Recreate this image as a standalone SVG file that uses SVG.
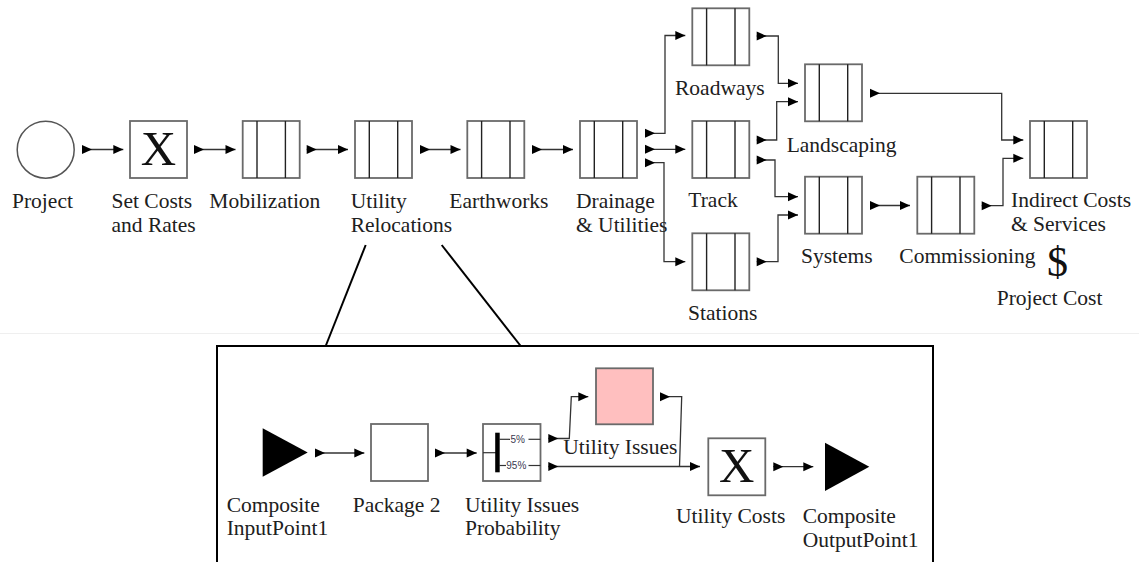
<svg xmlns="http://www.w3.org/2000/svg" width="1139" height="562" viewBox="0 0 1139 562">
  <style>
    .lbl { font-family: "Liberation Serif", "Times New Roman", serif; font-size: 21.5px; fill: #202020; }
    .big { font-family: "Liberation Serif", "Times New Roman", serif; font-size: 49px; fill: #111; text-anchor: middle; }
    .pct { font-family: "Liberation Sans", Arial, sans-serif; font-size: 10px; fill: #3a3a50; }
    .box { fill: #fff; stroke: #6a6a6a; stroke-width: 1.8; }
    .div { stroke: #222; stroke-width: 1.4; }
    .conn { fill: none; stroke: #333; stroke-width: 1.3; }
    .zoom { fill: none; stroke: #000; stroke-width: 2; }
  </style>
  <defs>
    <marker id="tail" markerUnits="userSpaceOnUse" markerWidth="10" markerHeight="10" refX="0" refY="4.5" orient="auto" overflow="visible">
      <path d="M0,0 L10,4.5 L0,9 z" fill="#000"/>
    </marker>
    <marker id="head" markerUnits="userSpaceOnUse" markerWidth="10" markerHeight="10" refX="10" refY="4.5" orient="auto" overflow="visible">
      <path d="M0,0 L10,4.5 L0,9 z" fill="#000"/>
    </marker>
    <!-- activity box with two dividers -->
    <g id="task">
      <rect class="box" x="0" y="0" width="57" height="57"/>
      <line class="div" x1="14.3" y1="0" x2="14.3" y2="57"/>
      <line class="div" x1="42.7" y1="0" x2="42.7" y2="57"/>
    </g>
  </defs>

  <rect x="0" y="0" width="1139" height="562" fill="#fff"/>
  <!-- faint page separator -->
  <line x1="0" y1="333.5" x2="1139" y2="333.5" stroke="#efefef" stroke-width="1"/>

  <!-- top-level nodes -->
  <g id="project">
    <circle cx="45.7" cy="149.7" r="28.5" fill="#fff" stroke="#555" stroke-width="1.5"/>
    <text class="lbl" x="12" y="208.3">Project</text>
  </g>
  <g id="set-costs">
    <rect class="box" x="130" y="121" width="57" height="57"/>
    <text class="big" x="158.5" y="164.5">X</text>
    <text class="lbl" x="111.5" y="208.3">Set Costs</text>
    <text class="lbl" x="111.5" y="231.7">and Rates</text>
  </g>
  <g id="mobilization">
    <use href="#task" x="242.7" y="121"/>
    <text class="lbl" x="209.3" y="208.3">Mobilization</text>
  </g>
  <g id="utility-relocations">
    <use href="#task" x="355" y="121"/>
    <text class="lbl" x="350.7" y="208.3">Utility</text>
    <text class="lbl" x="350.7" y="231.7">Relocations</text>
  </g>
  <g id="earthworks">
    <use href="#task" x="467.3" y="121"/>
    <text class="lbl" x="449.3" y="208.3">Earthworks</text>
  </g>
  <g id="drainage">
    <use href="#task" x="580" y="121"/>
    <text class="lbl" x="576" y="208.3">Drainage</text>
    <text class="lbl" x="576" y="231.7">&amp; Utilities</text>
  </g>
  <g id="roadways">
    <use href="#task" x="692.3" y="8.3"/>
    <text class="lbl" x="675" y="95">Roadways</text>
  </g>
  <g id="track">
    <use href="#task" x="692.3" y="121"/>
    <text class="lbl" x="688.3" y="206.7">Track</text>
  </g>
  <g id="stations">
    <use href="#task" x="692.3" y="233.3"/>
    <text class="lbl" x="688" y="320">Stations</text>
  </g>
  <g id="landscaping">
    <use href="#task" x="805" y="64.3"/>
    <text class="lbl" x="786.7" y="151.7">Landscaping</text>
  </g>
  <g id="systems">
    <use href="#task" x="805" y="176.7"/>
    <text class="lbl" x="801" y="263.3">Systems</text>
  </g>
  <g id="commissioning">
    <use href="#task" x="917.3" y="176.7"/>
    <text class="lbl" x="899.3" y="263.3">Commissioning</text>
  </g>
  <g id="indirect-costs">
    <use href="#task" x="1030" y="121"/>
    <text class="lbl" x="1011" y="206.7">Indirect Costs</text>
    <text class="lbl" x="1011" y="230.7">&amp; Services</text>
  </g>
  <g id="project-cost">
    <text x="1057.5" y="276" font-family="Liberation Serif, serif" font-size="42" fill="#111" text-anchor="middle">$</text>
    <text class="lbl" x="996.7" y="305">Project Cost</text>
  </g>

  <!-- detail panel for Utility Relocations -->
  <g id="detail-panel">
    <line class="zoom" x1="365.7" y1="245" x2="325.7" y2="346"/>
    <line class="zoom" x1="441.7" y1="245" x2="520.7" y2="346"/>
    <rect x="217" y="346" width="716" height="230" fill="#fff" stroke="#000" stroke-width="2"/>
  </g>

  <g id="input-point">
    <polygon points="262.7,428.3 307.7,452.5 262.7,476.7" fill="#000"/>
    <text class="lbl" x="226.7" y="511.7">Composite</text>
    <text class="lbl" x="226.7" y="535">InputPoint1</text>
  </g>
  <g id="package-2">
    <rect class="box" x="371" y="424" width="57" height="57"/>
    <text class="lbl" x="352.7" y="511.7">Package 2</text>
  </g>
  <g id="issues-probability">
    <rect class="box" x="483" y="424" width="57.5" height="57"/>
    <line x1="483" y1="452.7" x2="496" y2="452.7" stroke="#333" stroke-width="1.2"/>
    <rect x="495.2" y="432.7" width="4.5" height="39.6" fill="#000"/>
    <line x1="499" y1="439.3" x2="510" y2="439.3" stroke="#333" stroke-width="1.2"/>
    <line x1="528.5" y1="439.3" x2="540.5" y2="439.3" stroke="#333" stroke-width="1.2"/>
    <line x1="499" y1="465.5" x2="506" y2="465.5" stroke="#333" stroke-width="1.2"/>
    <line x1="528.5" y1="465.5" x2="540.5" y2="465.5" stroke="#333" stroke-width="1.2"/>
    <text class="pct" x="510.5" y="443">5%</text>
    <text class="pct" x="506.3" y="469">95%</text>
    <text class="lbl" x="465" y="511.7">Utility Issues</text>
    <text class="lbl" x="465" y="535">Probability</text>
  </g>
  <g id="utility-issues">
    <rect x="596" y="368.3" width="57" height="56" fill="#ffbfbf" stroke="#6a6a6a" stroke-width="1.8"/>
    <text class="lbl" x="563.3" y="454.3">Utility Issues</text>
  </g>
  <g id="utility-costs">
    <rect class="box" x="708.3" y="438.3" width="57" height="57"/>
    <text class="big" x="736.8" y="481.7">X</text>
    <text class="lbl" x="676" y="523.3">Utility Costs</text>
  </g>
  <g id="output-point">
    <polygon points="825,442.7 869.3,466.8 825,491" fill="#000"/>
    <text class="lbl" x="802.7" y="523.3">Composite</text>
    <text class="lbl" x="802.7" y="546.7">OutputPoint1</text>
  </g>

  <!-- connectors -->
  <g id="connectors" class="conn">
    <path class="conn" marker-start="url(#tail)" marker-end="url(#head)" d="M82,149.5 H123.3"/>
    <path class="conn" marker-start="url(#tail)" marker-end="url(#head)" d="M194,149.5 H235.5"/>
    <path class="conn" marker-start="url(#tail)" marker-end="url(#head)" d="M306.7,149.5 H348"/>
    <path class="conn" marker-start="url(#tail)" marker-end="url(#head)" d="M420,149.5 H460.5"/>
    <path class="conn" marker-start="url(#tail)" marker-end="url(#head)" d="M532,149.5 H573"/>
    <path class="conn" marker-start="url(#tail)" marker-end="url(#head)" d="M645,133.3 H665 V35.5 H685.3"/>
    <path class="conn" marker-start="url(#tail)" marker-end="url(#head)" d="M645,149.3 H685.3"/>
    <path class="conn" marker-start="url(#tail)" marker-end="url(#head)" d="M645,162.7 H664 V261.7 H685.3"/>
    <path class="conn" marker-start="url(#tail)" marker-end="url(#head)" d="M756.7,36 H778.3 V83.3 H798"/>
    <path class="conn" marker-start="url(#tail)" marker-end="url(#head)" d="M756.7,140 H776.7 V101.7 H798"/>
    <path class="conn" marker-start="url(#tail)" marker-end="url(#head)" d="M756.7,160 H775 V196.7 H798"/>
    <path class="conn" marker-start="url(#tail)" marker-end="url(#head)" d="M756.7,261.7 H778 V215 H798"/>
    <path class="conn" marker-start="url(#tail)" marker-end="url(#head)" d="M870,93.3 H1001.7 V140 H1023.3"/>
    <path class="conn" marker-start="url(#tail)" marker-end="url(#head)" d="M870,205.5 H910"/>
    <path class="conn" marker-start="url(#tail)" marker-end="url(#head)" d="M981.7,205.7 H1003 V158.3 H1023.3"/>
    <path class="conn" marker-start="url(#tail)" marker-end="url(#head)" d="M315,453 H364.3"/>
    <path class="conn" marker-start="url(#tail)" marker-end="url(#head)" d="M435,453 H476.7"/>
    <path class="conn" marker-start="url(#tail)" marker-end="url(#head)" d="M548.3,438.5 H569.3 L571.3,396.7 H588.3"/>
    <path class="conn" marker-start="url(#tail)" marker-end="url(#head)" d="M548.3,466.5 H700"/>
    <path class="conn" marker-start="url(#tail)" d="M660,396.7 H681.7 L679.5,466.5"/>
    <path class="conn" marker-start="url(#tail)" marker-end="url(#head)" d="M773.3,466.7 H813.3"/>
  </g>
</svg>
